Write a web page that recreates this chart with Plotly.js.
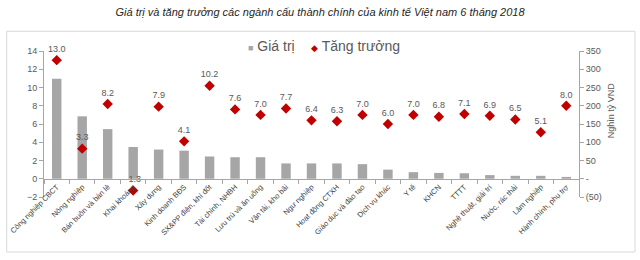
<!DOCTYPE html>
<html>
<head>
<meta charset="utf-8">
<script src="https://cdn.plot.ly/plotly-3.0.1.min.js"></script>
<style>html,body{margin:0;padding:0;background:#fff;}#chart{width:640px;height:260px;}</style>
</head>
<body>
<div id="chart"></div>
<script>
const categories = ["Công nghiệp CBCT","Nông nghiệp","Bán buôn và bán lẻ","Khai khoáng","Xây dựng","Kinh doanh BĐS","SX&PP điện, khí đốt","Tài chính, NHBH","Lưu trú và ăn uống","Vận tải, kho bãi","Ngư nghiệp","Hoạt động CTXH","Giáo dục và đào tạo","Dịch vụ khác","Y tế","KHCN","TTTT","Nghệ thuật, giải trí","Nước, rác thải","Lâm nghiệp","Hành chính, phụ trợ"];
const giaTri = [274,171,136,87,80,77,61,59,59,42,42,42,40,25,18,16,15,10,8,8,5];
const tangTruong = [13.0,3.3,8.2,-1.3,7.9,4.1,10.2,7.6,7.0,7.7,6.4,6.3,7.0,6.0,7.0,6.8,7.1,6.9,6.5,5.1,8.0];
const rightTicks = [-50,0,50,100,150,200,250,300,350];
const rightTickText = ["(50)","-","50","100","150","200","250","300","350"];

const FONT = "Liberation Sans, Arial, sans-serif";
const AX = "#A6A6A6";

const traces = [
  {
    type: "bar", name: "Giá trị", x: categories, y: giaTri, yaxis: "y", xaxis: "x",
    width: 0.37, marker: {color: "#A6A6A6"}, hoverinfo: "skip"
  },
  {
    type: "scatter", name: "Tăng trưởng", x: categories, y: tangTruong, yaxis: "y2", xaxis: "x",
    mode: "markers+text", marker: {symbol: "diamond", size: 8, color: "#C00000"},
    text: tangTruong.map(v => v.toFixed(1)), textposition: "top center",
    textfont: {family: FONT, size: 9, color: "#595959"}, cliponaxis: false, hoverinfo: "skip"
  }
];

const layout = {
  width: 640, height: 260,
  margin: {l: 44, r: 61, t: 51, b: 63, pad: 0},
  paper_bgcolor: "#fff", plot_bgcolor: "rgba(0,0,0,0)",
  showlegend: false,
  font: {family: FONT, color: "#595959"},
  title: {
    text: "Giá trị và tăng trưởng các ngành cấu thành chính của kinh tế Việt nam 6 tháng 2018",
    font: {family: FONT, size: 11, style: "italic", color: "#262626"},
    x: 0.5, xref: "container", y: 0.954, yref: "container", yanchor: "middle"
  },
  xaxis: {
    type: "category", range: [-0.5, 20.5], anchor: "free", position: 0.125,
    showline: true, linecolor: AX, linewidth: 1, showgrid: false, zeroline: false,
    ticks: "outside", tickson: "boundaries", ticklen: 4, tickcolor: AX,
    tickangle: -45, tickfont: {family: FONT, size: 7.5, color: "#404040"}
  },
  yaxis: {
    side: "right", range: [-50, 350], tickvals: rightTicks, ticktext: rightTickText,
    showline: true, linecolor: AX, ticks: "outside", ticklen: 4, tickcolor: AX,
    showgrid: false, zeroline: false, tickfont: {family: FONT, size: 9, color: "#595959"}
  },
  yaxis2: {
    overlaying: "y", side: "left", range: [-2, 14], dtick: 2, tick0: 0,
    showline: true, linecolor: AX, ticks: "outside", ticklen: 4, tickcolor: AX,
    showgrid: false, zeroline: false, tickfont: {family: FONT, size: 9, color: "#595959"}
  },
  annotations: [
    {xref: "paper", yref: "paper", x: 1.073, y: 0.8, text: "Nghìn tỷ VND", textangle: -90,
     showarrow: false, font: {family: FONT, size: 9, color: "#595959"}},
    {xref: "paper", yref: "paper", x: 0.378, y: 1.032, xanchor: "left", yanchor: "middle",
     text: "<span style='color:#A6A6A6;font-size:9px'>■</span> Giá trị", showarrow: false,
     font: {family: FONT, size: 14, color: "#595959"}},
    {xref: "paper", yref: "paper", x: 0.496, y: 1.032, xanchor: "left", yanchor: "middle",
     text: "<span style='color:#C00000;font-size:9px'>◆</span> Tăng trưởng", showarrow: false,
     font: {family: FONT, size: 14, color: "#595959"}}
  ],
  shapes: [
    {type: "rect", xref: "paper", yref: "paper", x0: -0.0697, x1: 1.1047, y0: -0.3767, y1: 1.135,
     line: {color: "#D9D9D9", width: 1}, fillcolor: "rgba(0,0,0,0)", layer: "below"}
  ]
};

Plotly.newPlot("chart", traces, layout, {displayModeBar: false, staticPlot: true});
</script>
</body>
</html>
